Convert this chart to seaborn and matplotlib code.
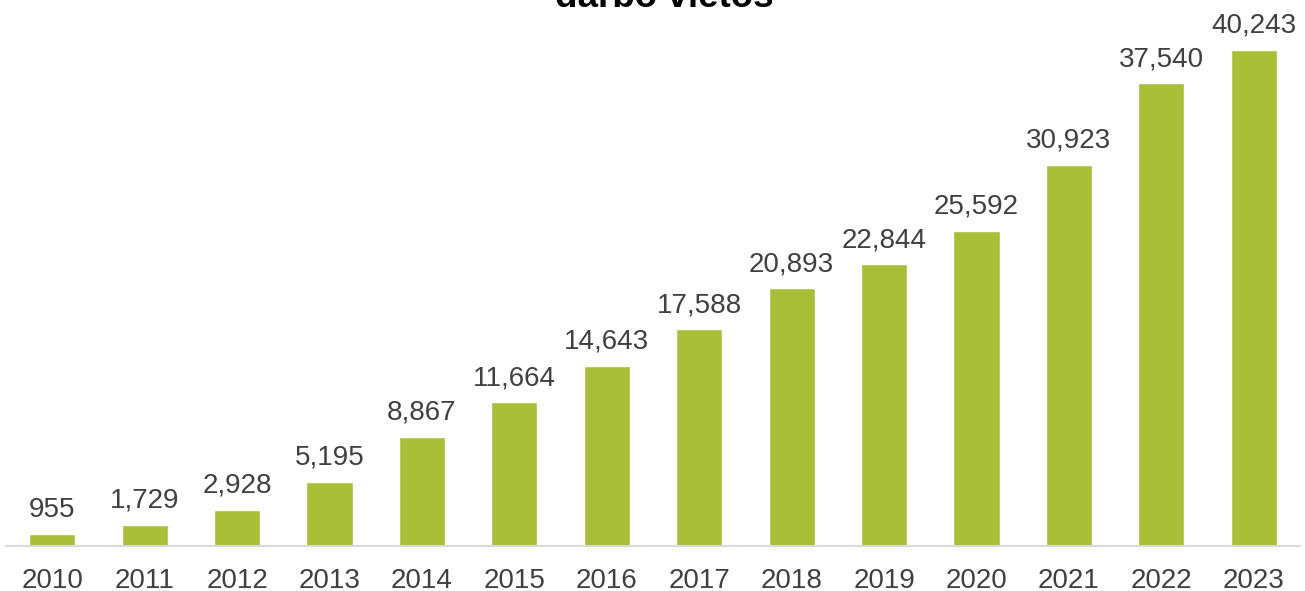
import matplotlib
matplotlib.use("Agg")
import matplotlib.pyplot as plt
import seaborn as sns
import pandas as pd

years = ["2010", "2011", "2012", "2013", "2014", "2015", "2016",
         "2017", "2018", "2019", "2020", "2021", "2022", "2023"]
values = [955, 1729, 2928, 5195, 8867, 11664, 14643,
          17588, 20893, 22844, 25592, 30923, 37540, 40243]
title = "darbo vietos"

sns.set_theme(style="white")
plt.rcParams["font.family"] = ["Liberation Sans", "DejaVu Sans"]

df = pd.DataFrame({"year": years, "value": values})

fig = plt.figure(figsize=(13.05, 5.91), dpi=100)
ax = fig.add_axes([6 / 1305, 45 / 591, 1294 / 1305, 546 / 591])

sns.barplot(data=df, x="year", y="value", color="#A9BF38", saturation=1,
            width=0.5, ax=ax)

ax.set_ylim(0, 40243 * 546 / 496)
ax.set_xlim(-0.5, len(years) - 0.5)

for c in ax.containers:
    ax.bar_label(c, labels=[f"{v:,}" for v in values], padding=8,
                 fontsize=20, color="#404040")

for s in ["top", "right", "left"]:
    ax.spines[s].set_visible(False)
ax.spines["bottom"].set_color("#D9D9D9")
ax.spines["bottom"].set_linewidth(1.5)
ax.set_yticks([])
ax.set_xlabel("")
ax.set_ylabel("")
ax.tick_params(axis="x", length=0, pad=15.5, labelsize=20, labelcolor="#404040")

fig.text(664 / 1305, 1 - 7 / 591, title, ha="center", va="baseline",
         fontsize=26.5, fontweight="bold", color="#000000")

fig.savefig("out.png", dpi=100)
